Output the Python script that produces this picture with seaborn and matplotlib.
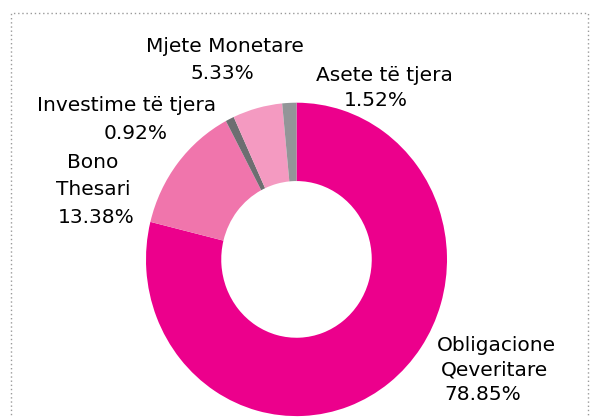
import matplotlib
matplotlib.use("Agg")
import matplotlib.pyplot as plt
import seaborn as sns
from matplotlib.patches import Rectangle

categories = ["Obligacione Qeveritare", "Bono Thesari", "Investime të tjera", "Mjete Monetare", "Asete të tjera"]
values = [78.85, 13.38, 0.92, 5.33, 1.52]
label_lines = [["Obligacione", "Qeveritare"], ["Bono", "Thesari"], ["Investime të tjera"], ["Mjete Monetare"], ["Asete të tjera"]]
colors = ["#EC008C", "#F075AC", "#6D6E71", "#F49AC1", "#939598"]

sns.set_theme(style="white")
plt.rcParams['font.family'] = ['DejaVu Sans']

W, H = 594, 418
fig = plt.figure(figsize=(W / 100, H / 100), dpi=100)
fig.patch.set_facecolor("white")

cx, cy, rx, ry = 296.5, 259.4, 150.5, 156.7
ax = fig.add_axes([(cx - rx) / W, (H - cy - ry) / H, 2 * rx / W, 2 * ry / H])
ax.pie(values, colors=colors, startangle=90, counterclock=False,
       wedgeprops=dict(width=0.5, edgecolor="none"), radius=1.0)
ax.set_aspect("auto")
ax.set_xlim(-1, 1)
ax.set_ylim(-1, 1)
ax.axis("off")

# label positions: (x center, baseline y) in pixels for each line
pos = [
    [(496, 351), (494, 375), (483, 400)],
    [(93, 168), (93, 195), (96, 223)],
    [(127, 111), (136, 139)],
    [(225, 52), (222, 79)],
    [(384, 81), (376, 106)],
]
for lines, v, p in zip(label_lines, values, pos):
    texts = lines + [f"{v:.2f}%"]
    for t, (px, py) in zip(texts, p):
        fig.text(px / W, 1 - py / H, t, ha="center", va="baseline",
                 fontsize=14.5, color="#000000")

# dotted border
fig.add_artist(Rectangle((10.5 / W, -0.02), (588 - 10.5) / W, 1 - 12.5 / H + 0.02,
                         transform=fig.transFigure, fill=False,
                         edgecolor="#9a9a9a", linewidth=1, linestyle=(0, (1, 2))))

fig.savefig("out.png", dpi=100, facecolor="white")
